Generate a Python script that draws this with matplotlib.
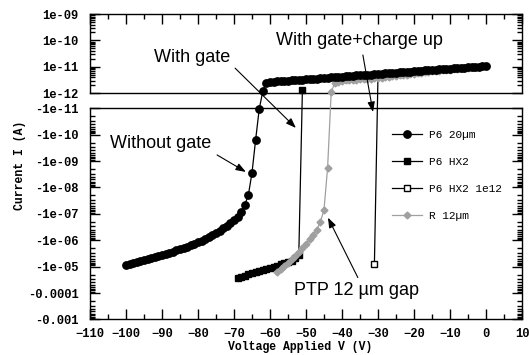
import numpy as np
import matplotlib
matplotlib.use("Agg")
import matplotlib.pyplot as plt
from matplotlib.ticker import MultipleLocator, LogLocator, FixedLocator, NullFormatter

# sweep voltages (V) and measured currents (A)
p6_20_v = np.arange(-100, 1)
p6_20_i = [
    -8.4e-6, -7.7e-6, -7.1e-6, -6.5e-6, -6.0e-6, -5.6e-6, -5.2e-6, -4.8e-6, -4.4e-6, -4.0e-6,
    -3.65e-6, -3.3e-6, -3.0e-6, -2.7e-6, -2.45e-6, -2.2e-6, -2.0e-6, -1.8e-6, -1.58e-6, -1.39e-6,
    -1.21e-6, -1.04e-6, -8.9e-7, -7.6e-7, -6.3e-7, -5.2e-7, -4.3e-7, -3.5e-7, -2.8e-7, -2.2e-7,
    -1.73e-7, -1.32e-7,
    # breakdown region
    -8.3e-8, -4.6e-8, -1.9e-8, -2.8e-9, -1.6e-10, -1.1e-11, 1.2e-12, 2.4e-12,
]
p6_20_top = [  # -60 V .. 0 V, in pA
    2.7, 2.75, 2.8, 2.9, 2.95, 3.0, 3.1, 3.15, 3.2, 3.3, 3.4, 3.45, 3.55, 3.6, 3.7, 3.8,
    3.9, 4.0, 4.1, 4.15, 4.25, 4.35, 4.45, 4.55, 4.7, 4.8, 4.9, 5.0, 5.1, 5.25, 5.35, 5.5,
    5.6, 5.75, 5.9, 6.0, 6.15, 6.3, 6.45, 6.6, 6.75, 6.9, 7.1, 7.25, 7.4, 7.6, 7.75, 7.95,
    8.1, 8.3, 8.5, 8.7, 8.9, 9.1, 9.3, 9.55, 9.8, 10.0, 10.2, 10.5, 10.7,
]
p6_20_i = np.concatenate([p6_20_i, np.array(p6_20_top) * 1e-12])

hx2_v = np.arange(-69, -50)
hx2_i = [
    -2.6e-5, -2.38e-5, -2.19e-5, -1.97e-5, -1.79e-5, -1.63e-5, -1.48e-5, -1.34e-5, -1.22e-5,
    -1.11e-5, -1.0e-5, -9.1e-6, -8.3e-6, -7.4e-6, -6.7e-6, -5.9e-6, -4.9e-6, -3.5e-6, 1.3e-12,
]

hx2_1e12_v = [-31, -30]
hx2_1e12_i = [-8.3e-6, 5.0e-12]

r12_v = np.arange(-58, 1)
r12_i = [
    -1.55e-5, -1.19e-5, -9.2e-6, -7.1e-6, -5.2e-6, -3.85e-6, -2.84e-6, -2.0e-6, -1.36e-6,
    -8.8e-7, -6.2e-7, -4.0e-7, -2.0e-7, -7.1e-8, -1.8e-9, 1.1e-12,
]
r12_top = [  # -42 V .. 0 V, in pA
    2.45, 2.7, 3.0, 3.05, 3.1, 3.2, 3.3, 3.35, 3.45, 3.5, 3.6, 3.7, 3.75, 3.9, 4.05,
    4.2, 4.35, 4.5, 4.7, 4.9, 5.1, 5.35, 5.55, 5.75, 5.95, 6.15, 6.4, 6.7, 6.9, 7.15,
    7.35, 7.65, 7.9, 8.2, 8.45, 8.7, 8.95, 9.25, 9.55, 9.8, 10.1, 10.45, 10.7,
]
r12_i = np.concatenate([r12_i, np.array(r12_top) * 1e-12])

pos_ticks = [1e-12, 1e-11, 1e-10, 1e-9]
pos_labels = ["1e-12", "1e-11", "1e-10", "1e-09"]
neg_ticks = [1e-11, 1e-10, 1e-9, 1e-8, 1e-7, 1e-6, 1e-5, 1e-4, 1e-3]
neg_labels = ["-1e-11", "-1e-10", "-1e-09", "-1e-08", "-1e-07",
              "-1e-06", "-1e-05", "-0.0001", "-0.001"]

MONO = "Liberation Mono"
SANS = "Liberation Sans"
GREY = "#a0a0a0"

# layout in pixels
W, H = 529, 355
LEFT, RIGHT = 90, 522
TOP = 14
DEC = 26.4  # pixels per decade
GAP = 15
top_bot = TOP + 3 * DEC
bot_top = top_bot + GAP
BOTTOM = bot_top + 8 * DEC
G = GAP / DEC


def box(y0, y1):
    return [LEFT / W, 1 - y1 / H, (RIGHT - LEFT) / W, (y1 - y0) / H]


# broken log axis: positive decades above, negative decades below
def fwd(y):
    y = np.asarray(y, dtype=float)
    with np.errstate(all="ignore"):
        la = np.log10(np.abs(y))
        out = np.where(
            y >= 1e-12, la + 12,
            np.where(y <= -1e-11, -(la + 11) - G, (y - 1e-12) / 1.1e-11 * G),
        )
    return out


def inv(t):
    t = np.asarray(t, dtype=float)
    with np.errstate(all="ignore"):
        out = np.where(
            t >= 0, 10 ** (t - 12),
            np.where(t <= -G, -10 ** (-(t + G) - 11), 1e-12 + t / G * 1.1e-11),
        )
    return out


fig = plt.figure(figsize=(W / 100, H / 100), dpi=100)

tick_kw = dict(direction="in", width=1.0)


def style_panel(a):
    a.set_xlim(-110, 10)
    a.set_yscale("log")
    a.xaxis.set_major_locator(MultipleLocator(10))
    a.xaxis.set_minor_locator(MultipleLocator(5))
    a.yaxis.set_minor_locator(LogLocator(base=10, subs=np.arange(2, 10), numticks=20))
    a.yaxis.set_minor_formatter(NullFormatter())
    a.tick_params(which="major", length=7, **tick_kw)
    a.tick_params(which="minor", length=3.5, **tick_kw)
    a.tick_params(axis="y", which="both", left=True, right=True, labelright=False, pad=8)
    for s in a.spines.values():
        s.set_linewidth(1.0)


axt = fig.add_axes(box(TOP, top_bot))
style_panel(axt)
axt.set_ylim(1e-12, 1e-9)
axt.yaxis.set_major_locator(FixedLocator(pos_ticks))
axt.set_yticklabels(pos_labels, fontfamily=MONO, fontweight="bold", fontsize=8.7)
axt.tick_params(axis="x", which="both", top=True, bottom=False,
                labeltop=False, labelbottom=False)

axb = fig.add_axes(box(bot_top, BOTTOM))
style_panel(axb)
axb.set_ylim(1e-3, 1e-11)
axb.yaxis.set_major_locator(FixedLocator(neg_ticks))
axb.set_yticklabels(neg_labels, fontfamily=MONO, fontweight="bold", fontsize=8.7)
axb.tick_params(axis="x", which="both", top=False, bottom=True, pad=6)
for lab in axb.get_xticklabels():
    lab.set_fontfamily(MONO)
    lab.set_fontweight("bold")
    lab.set_fontsize(8.7)

# data layer spanning both panels
ax = fig.add_axes(box(TOP, BOTTOM))
ax.set_yscale("function", functions=(fwd, inv))
ax.set_xlim(-110, 10)
ax.set_ylim(inv(-8 - G), 1e-9)
ax.axis("off")

h1, = ax.plot(p6_20_v, p6_20_i, "-o", color="black", lw=0.9, ms=5.3,
              label="P6 20µm", zorder=4)
h2, = ax.plot(hx2_v, hx2_i, "-s", color="black", lw=0.9, ms=5,
              label="P6 HX2", zorder=2)
h3, = ax.plot(hx2_1e12_v, hx2_1e12_i, "-s", color="black", mfc="white", lw=0.9, ms=5,
              label="P6 HX2 1e12", zorder=2.2)
h4, = ax.plot(r12_v, r12_i, "-D", color=GREY, mec=GREY, mfc=GREY, lw=0.9, ms=3.5,
              label="R 12µm", zorder=3)

arrow = dict(arrowstyle="-|>,head_length=0.6,head_width=0.22", color="black",
             lw=0.8, shrinkA=0, shrinkB=0)
txt = dict(fontfamily=SANS, fontsize=13, ha="left", va="center")

ax.text(-92.2, 2.3e-11, "With gate", **txt)
ax.annotate("", xy=(-52.8, -5.6e-11), xytext=(-69.7, 8.9e-12), arrowprops=arrow)

ax.text(-58.3, 1.0e-10, "With gate+charge up", **txt)
ax.annotate("", xy=(-31.4, -1.4e-11), xytext=(-34.2, 2.8e-11), arrowprops=arrow)

ax.text(-104.4, -2.1e-10, "Without gate", **txt)
ax.annotate("", xy=(-66.7, -2.6e-9), xytext=(-74.7, -5.9e-10), arrowprops=arrow)

ax.text(-53.3, -8.1e-5, "PTP 12 µm gap", **txt)
ax.annotate("", xy=(-43.9, -1.4e-7), xytext=(-35.6, -2.6e-5), arrowprops=arrow)

ax.legend(handles=[h1, h2, h3, h4], loc="upper left",
          bbox_to_anchor=(386 / W, 1 - 124 / H), bbox_transform=fig.transFigure,
          frameon=False, borderpad=0, handlelength=2.7, handletextpad=0.7,
          labelspacing=1.55, prop=dict(family=MONO, size=8))

fig.text(300 / W, 1 - 347 / H, "Voltage Applied V (V)", fontfamily=MONO,
         fontweight="bold", fontsize=8.3, ha="center", va="center")
fig.text(20 / W, 1 - 165 / H, "Current I (A)", fontfamily=MONO, fontweight="bold",
         fontsize=8.3, ha="center", va="center", rotation=90)

fig.savefig("out.png", dpi=100)
